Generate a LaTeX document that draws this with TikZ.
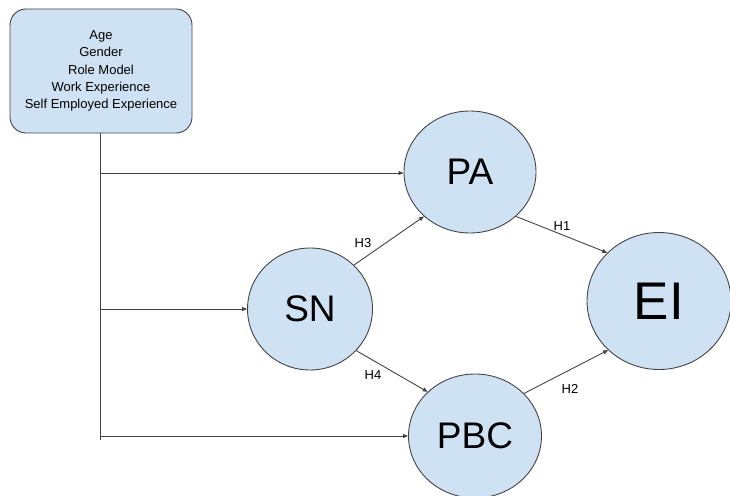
\documentclass[tikz,border=0pt]{standalone}
\usepackage{fontspec}
\setmainfont{Liberation Sans}
\usepackage{tikz}
\usetikzlibrary{arrows.meta,shapes.geometric}
\definecolor{varblue}{HTML}{CFE2F3}
\definecolor{edgegray}{HTML}{444444}

\begin{document}
\begin{tikzpicture}[x=1pt,y=-1pt,
	var/.style={ellipse, draw=edgegray, line width=0.9pt, fill=varblue, inner sep=0pt, font=\fontsize{37}{40}\selectfont},
	link/.style={draw=edgegray, line width=0.9pt, -{Triangle[length=5pt,width=4pt]}},
	hyp/.style={font=\fontsize{13}{15}\selectfont}]
\useasboundingbox (0,0) rectangle (730,495);
% control variables
\node (ctrl) [draw=edgegray, line width=0.9pt, fill=varblue, rounded corners=16pt, minimum width=182pt, minimum height=124pt, align=center, font=\fontsize{13}{17.3}\selectfont] at (101,71)
{Age\\Gender\\Role Model\\Work Experience\\Self Employed Experience};
% constructs
\node (PA) [var, minimum width=132pt, minimum height=122pt] at (470,172) {PA};
\node (SN) [var, minimum width=125pt, minimum height=122pt] at (310,309) {SN};
\node (PBC) [var, minimum width=133pt, minimum height=124pt] at (475,436) {PBC};
\node (EI) [var, minimum width=144pt, minimum height=137pt, font=\fontsize{53}{56}\selectfont] at (659,301) {EI};
% trunk
\coordinate (tPA) at (100,173);
\coordinate (tSN) at (100,309);
\coordinate (tPBC) at (100,436);
\coordinate (tEnd) at (100,440);
\draw[draw=edgegray, line width=0.9pt] (ctrl.south -| tEnd) -- (tEnd);
\path
(tPA) edge[link] (tPA -| PA.west)
(tSN) edge[link] (SN.west)
(tPBC) edge[link] (tPBC -| PBC.west)
(SN.45) edge[link] (PA.-136)
(SN.-42) edge[link] (PBC.137)
(PA.-44) edge[link] (EI.137)
(PBC.41) edge[link] (EI.-136)
;
% hypotheses
\node (h3) [hyp] at (363,243) {H3};
\node (h1) [hyp] at (562,226) {H1};
\node (h4) [hyp] at (373,375) {H4};
\node (h2) [hyp] at (570,389) {H2};
\end{tikzpicture}
\end{document}
